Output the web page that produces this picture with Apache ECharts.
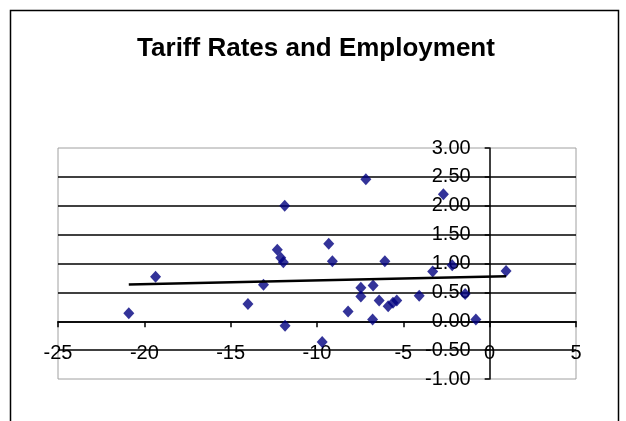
<!DOCTYPE html>
<html>
<head>
<meta charset="utf-8">
<title>Tariff Rates and Employment</title>
<script src="https://cdn.jsdelivr.net/npm/echarts@6/dist/echarts.min.js"></script>
<style>
  html, body { margin: 0; padding: 0; background: #fff; }
  #chart { width: 626px; height: 421px; }
</style>
</head>
<body>
<div id="chart"></div>
<script>
// Change in tariff rate (x) against change in employment (y), one point per observation
const tariffChange = [
  -20.9, -19.35, -14.0, -13.1, -12.3, -12.1, -11.95, -11.87, -11.85, -9.7,
  -9.32, -9.11, -8.2, -7.17, -7.46, -7.46, -6.75, -6.78, -6.4, -6.07,
  -5.88, -5.6, -5.38, -4.08, -3.3, -2.68, -2.17, -1.42, -0.8, 0.95
];
const employmentChange = [
  0.14, 0.77, 0.30, 0.63, 1.24, 1.10, 1.02, 2.00, -0.08, -0.36,
  1.34, 1.04, 0.17, 2.46, 0.58, 0.43, 0.62, 0.03, 0.36, 1.04,
  0.26, 0.32, 0.36, 0.44, 0.86, 2.20, 0.97, 0.47, 0.03, 0.87
];

const chartTitle = 'Tariff Rates and Employment';
const xTicks = { min: -25, max: 5, step: 5 };
const yTicks = { min: -1, max: 3, step: 0.5 };

const points = tariffChange.map((x, i) => [x, employmentChange[i]]);

// Least-squares linear trendline spanning the observed x range
function linearTrend(xs, ys) {
  const n = xs.length;
  const mx = xs.reduce((a, b) => a + b, 0) / n;
  const my = ys.reduce((a, b) => a + b, 0) / n;
  let sxy = 0, sxx = 0;
  for (let i = 0; i < n; i++) {
    sxy += (xs[i] - mx) * (ys[i] - my);
    sxx += (xs[i] - mx) * (xs[i] - mx);
  }
  const slope = sxy / sxx;
  const intercept = my - slope * mx;
  const x0 = Math.min(...xs), x1 = Math.max(...xs);
  return [[x0, intercept + slope * x0], [x1, intercept + slope * x1]];
}
const trend = linearTrend(tariffChange, employmentChange);

// Interior horizontal grid lines (the plot-area border covers min and max)
const gridValues = [];
for (let v = yTicks.min + yTicks.step; v < yTicks.max - 1e-9; v += yTicks.step) {
  gridValues.push(Math.round(v * 100) / 100);
}

// Plot area box in pixels
const W = 626, H = 421;
const plot = { left: 58, right: 576, top: 148, bottom: 379 };
const plotW = plot.right - plot.left, plotH = plot.bottom - plot.top;

// Axes cross at zero: shift each axis from the grid edge onto the zero line
const xZeroFromLeft = (0 - xTicks.min) / (xTicks.max - xTicks.min) * plotW;
const yZeroFromBottom = (0 - yTicks.min) / (yTicks.max - yTicks.min) * plotH;

const FONT = '"Liberation Sans", Arial, sans-serif';

const chart = echarts.init(document.getElementById('chart'), null, { renderer: 'canvas' });
chart.setOption({
  animation: false,
  backgroundColor: '#ffffff',
  title: {
    text: chartTitle,
    left: 311,
    textAlign: 'center',
    top: 31,
    textStyle: { fontFamily: FONT, fontWeight: 'bold', fontSize: 26, color: '#000' }
  },
  graphic: [{
    type: 'rect',
    silent: true,
    shape: { x: 10.5, y: 10.5, width: 608, height: 440 },
    style: { fill: 'none', stroke: '#000', lineWidth: 1.5 }
  }],
  grid: {
    left: plot.left, right: W - plot.right, top: plot.top, bottom: H - plot.bottom,
    show: true, borderColor: '#a0a0a0', borderWidth: 1, backgroundColor: 'transparent'
  },
  xAxis: {
    type: 'value',
    position: 'bottom',
    offset: -yZeroFromBottom,
    min: xTicks.min, max: xTicks.max, interval: xTicks.step,
    axisLine: { show: true, onZero: false, lineStyle: { color: '#000', width: 1.5 } },
    axisTick: { show: true, inside: false, length: 6, lineStyle: { color: '#000', width: 1.5 } },
    axisLabel: { fontFamily: FONT, fontSize: 20, color: '#000', margin: 22 },
    splitLine: { show: false }
  },
  yAxis: {
    type: 'value',
    position: 'left',
    offset: -xZeroFromLeft,
    min: yTicks.min, max: yTicks.max, interval: yTicks.step,
    axisLine: { show: true, onZero: false, lineStyle: { color: '#000', width: 1.5 } },
    axisTick: { show: true, inside: false, length: 5, lineStyle: { color: '#000', width: 1.5 } },
    axisLabel: {
      fontFamily: FONT, fontSize: 20, color: '#000', margin: 19,
      formatter: v => v.toFixed(2)
    },
    splitLine: { show: false }
  },
  series: [
    {
      type: 'scatter',
      data: points,
      symbol: 'diamond',
      symbolSize: [11, 12],
      itemStyle: { color: '#000080' },
      z: 3,
      markLine: {
        silent: true,
        symbol: 'none',
        animation: false,
        label: { show: false },
        lineStyle: { color: '#000', width: 1.5, type: 'solid' },
        data: gridValues.map(v => ({ yAxis: v })),
        z: 1
      }
    },
    {
      type: 'line',
      data: trend,
      symbol: 'none',
      lineStyle: { color: '#000', width: 2.5 },
      z: 4
    }
  ]
});
</script>
</body>
</html>
